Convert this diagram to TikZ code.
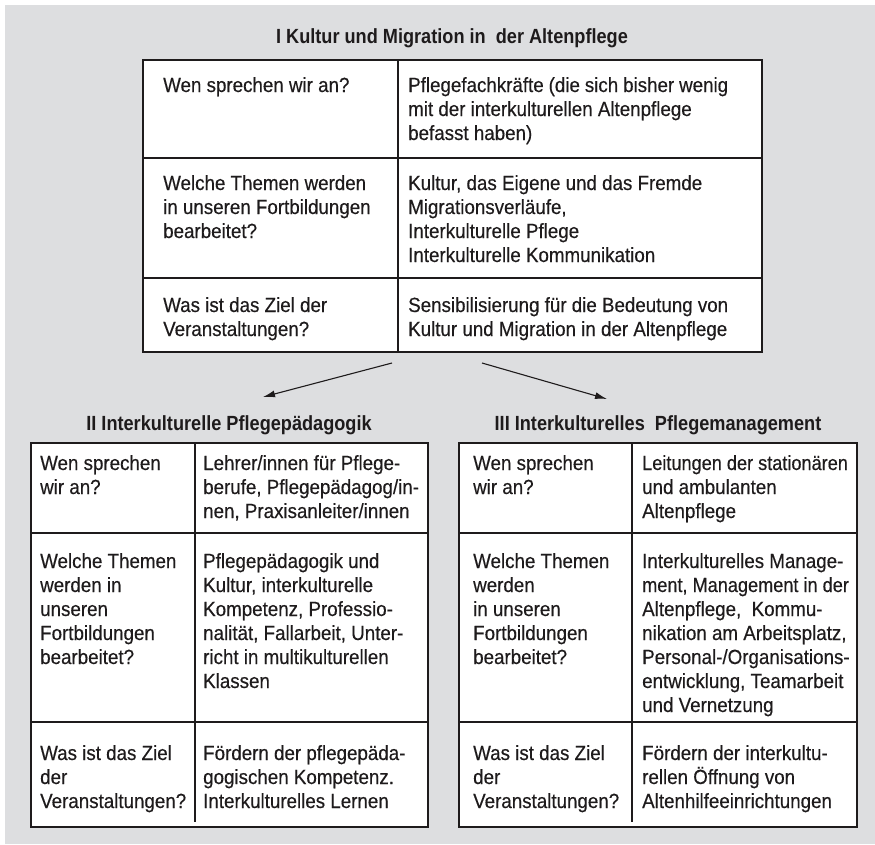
\documentclass[tikz,border=0pt]{standalone}
\usepackage{fontspec}
\setmainfont{Liberation Sans}[FakeStretch=0.915,FakeBold=0.35]
\newfontfamily\titlefont{Liberation Sans}[FakeStretch=0.885]
\usetikzlibrary{arrows.meta}
\definecolor{ink}{RGB}{30,27,28}
\definecolor{bggray}{RGB}{221,222,224}
\newcommand\cellfont{\fontsize{20.5}{24}\selectfont}
\newcommand\cl[1]{\parbox[t]{320pt}{\raggedright #1}}
\newcommand\tight[1]{{\addfontfeature{FakeStretch=0.885}#1}}
\tikzset{
  cell/.style={anchor=base west, inner sep=0pt, font=\cellfont, text=ink},
  ttl/.style={anchor=base, inner sep=0pt, font=\titlefont\bfseries\fontsize{20.5}{24}\selectfont, text=ink},
  frame/.style={draw=ink, line width=2.4pt, fill=white},
  rule/.style={draw=ink, line width=1.1pt},
  conn/.style={draw=ink, line width=1.1pt, -{Latex[length=12pt,width=7pt]}}
}
\begin{document}
\begin{tikzpicture}[x=1pt,y=-1pt]
\useasboundingbox (0,0) rectangle (875,844);
\fill[bggray] (5,5) rectangle (875,844);

% ---------- Table I ----------
\node[ttl] (t1) at (452,43) {I Kultur und Migration in\ \ der Altenpflege};
\draw[frame] (143,60) rectangle (762,352);
\draw[rule] (398,60) -- (398,352);
\draw[rule] (143,158) -- (762,158);
\draw[rule] (143,278) -- (762,278);

\node[cell] (a11) at (163,92) {\cl{Wen sprechen wir an?}};
\node[cell] (a12) at (408,92) {\cl{Pflegefachkräfte (die sich bisher wenig\\mit der interkulturellen Altenpflege\\befasst haben)}};
\node[cell] (a21) at (163,190) {\cl{Welche Themen werden\\in unseren Fortbildungen\\bearbeitet?}};
\node[cell] (a22) at (408,190) {\cl{Kultur, das Eigene und das Fremde\\Migrationsverläufe,\\Interkulturelle Pflege\\Interkulturelle Kommunikation}};
\node[cell] (a31) at (163,312) {\cl{Was ist das Ziel der\\Veranstaltungen?}};
\node[cell] (a32) at (408,312) {\cl{Sensibilisierung für die Bedeutung von\\Kultur und Migration in der Altenpflege}};

% ---------- arrows ----------
\coordinate (l0) at (392,363);
\coordinate (l1) at (263,397);
\coordinate (r0) at (482,363);
\coordinate (r1) at (607,399);
\draw[conn] (l0) -- (l1);
\draw[conn] (r0) -- (r1);

% ---------- Table II ----------
\node[ttl] (t2) at (229,430) {II Interkulturelle Pflegepädagogik};
\draw[frame] (31,443) rectangle (428,827);
\draw[rule] (195,443) -- (195,822);
\draw[rule] (31,533) -- (428,533);
\draw[rule] (31,722) -- (428,722);

\node[cell] (b11) at (40,470) {\cl{Wen sprechen\\wir an?}};
\node[cell] (b12) at (203,470) {\cl{Lehrer/innen für Pflege-\\berufe, Pflegepädagog/in-\\nen, Praxisanleiter/innen}};
\node[cell] (b21) at (40,568) {\cl{Welche Themen\\werden in\\unseren\\Fortbildungen\\bearbeitet?}};
\node[cell] (b22) at (203,568) {\cl{Pflegepädagogik und\\Kultur, interkulturelle\\Kompetenz, Professio-\\nalität, Fallarbeit, Unter-\\richt in multikulturellen\\Klassen}};
\node[cell] (b31) at (40,760) {\cl{Was ist das Ziel\\der\\Veranstaltungen?}};
\node[cell] (b32) at (203,760) {\cl{Fördern der pflegepäda-\\gogischen Kompetenz.\\Interkulturelles Lernen}};

% ---------- Table III ----------
\node[ttl] (t3) at (658,430) {III Interkulturelles\ \ Pflegemanagement};
\draw[frame] (459,443) rectangle (857,827);
\draw[rule] (632,443) -- (632,822);
\draw[rule] (459,533) -- (857,533);
\draw[rule] (459,722) -- (857,722);

\node[cell] (c11) at (473,470) {\cl{Wen sprechen\\wir an?}};
\node[cell] (c12) at (642,470) {\cl{\tight{Leitungen der stationären}\\und ambulanten\\Altenpflege}};
\node[cell] (c21) at (473,568) {\cl{Welche Themen\\werden\\in unseren\\Fortbildungen\\bearbeitet?}};
\node[cell] (c22) at (642,568) {\cl{Interkulturelles Manage-\\\tight{ment, Management in der}\\Altenpflege,\ \ Kommu-\\nikation am Arbeitsplatz,\\Personal-/Organisations-\\entwicklung, Teamarbeit\\und Vernetzung}};
\node[cell] (c31) at (473,760) {\cl{Was ist das Ziel\\der\\Veranstaltungen?}};
\node[cell] (c32) at (642,760) {\cl{Fördern der interkultu-\\rellen Öffnung von\\Altenhilfeeinrichtungen}};
\end{tikzpicture}
\end{document}
